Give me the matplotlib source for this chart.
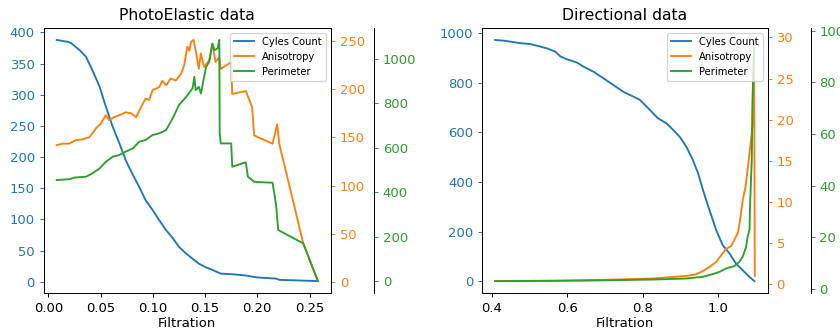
import matplotlib
matplotlib.use('Agg')
import matplotlib.pyplot as plt

# PhotoElastic data
pe_x_count = [0.008, 0.0185, 0.0217, 0.0297, 0.036, 0.042, 0.049, 0.055, 0.0615, 0.068, 0.074, 0.081,
              0.087, 0.093, 0.0998, 0.106, 0.1126, 0.119, 0.125, 0.132, 0.138, 0.144, 0.151, 0.157,
              0.165, 0.176, 0.189, 0.199, 0.218, 0.221, 0.258]
pe_count = [388, 385, 383, 372, 361, 340, 313, 281, 249, 222, 195, 171,
            152, 131, 115, 99, 83, 70, 56, 45, 37, 29, 23, 19,
            13, 12, 10, 7, 5, 3, 1]

pe_x_aniso = [0.008, 0.0137, 0.020, 0.026, 0.033, 0.039, 0.042, 0.046, 0.050, 0.055, 0.058, 0.063,
              0.068, 0.074, 0.079, 0.084, 0.089, 0.093, 0.0966, 0.0998, 0.106, 0.109, 0.113, 0.117,
              0.122, 0.127, 0.130, 0.133, 0.135, 0.1365, 0.139, 0.141, 0.144, 0.146, 0.149, 0.154,
              0.157, 0.160, 0.1636, 0.165, 0.175, 0.176, 0.189, 0.195, 0.197, 0.2146, 0.219, 0.221,
              0.244, 0.258]
pe_aniso = [142, 143.5, 143.5, 147, 148, 150, 154, 160, 164, 173, 168, 171,
            173, 176, 175, 171, 182, 190, 189, 199, 202, 208.5, 204, 211,
            209, 216, 225, 244, 240, 249, 251, 240, 221, 237, 223, 230,
            247, 228, 233, 221, 228, 195, 198, 181.5, 152, 143.5, 163.5, 143.5,
            40, 1]

pe_x_perim = [0.008, 0.020, 0.026, 0.036, 0.042, 0.049, 0.055, 0.0615, 0.068, 0.074, 0.081, 0.087,
              0.093, 0.0998, 0.106, 0.1126, 0.119, 0.125, 0.132, 0.138, 0.1397, 0.141, 0.144, 0.146,
              0.151, 0.154, 0.157, 0.159, 0.162, 0.1636, 0.164, 0.165, 0.175, 0.176, 0.189, 0.191,
              0.197, 0.2146, 0.218, 0.220, 0.244, 0.258]
pe_perim = [455, 459, 467, 470, 485, 507, 537, 560, 568, 583, 598, 628,
            635, 658, 665, 680, 733, 793, 830, 868, 920, 860, 875, 845,
            965, 988, 1070, 1040, 1048, 1086, 665, 620, 620, 515, 535, 470,
            447, 443, 342, 230, 170, 0]

# Directional data
dir_x_count = [0.409, 0.432, 0.45, 0.476, 0.503, 0.529, 0.546, 0.568, 0.582, 0.599, 0.625, 0.643,
               0.669, 0.696, 0.722, 0.748, 0.775, 0.792, 0.810, 0.827, 0.840, 0.862, 0.880, 0.897,
               0.915, 0.932, 0.946, 0.959, 0.976, 0.994, 1.011, 1.029, 1.046, 1.064, 1.082, 1.095]
dir_count = [973, 970, 966, 960, 956, 946, 939, 926, 906, 895, 882, 865,
             845, 818, 791, 764, 744, 731, 704, 677, 657, 637, 610, 583,
             542, 489, 435, 367, 287, 206, 145, 112, 71, 44, 17, 0]

dir_x_aniso = [0.409, 0.564, 0.739, 0.827, 0.915, 0.941, 0.959, 0.976, 0.994, 1.007, 1.020, 1.033,
               1.042, 1.051, 1.057, 1.064, 1.071, 1.077, 1.083, 1.088, 1.090, 1.094, 1.096]
dir_aniso = [0.37, 0.41, 0.57, 0.69, 1.0, 1.2, 1.6, 2.1, 2.7, 3.5, 4.3, 4.6,
             5.4, 6.2, 7.8, 10.2, 11.7, 13.9, 16.3, 18.4, 19.4, 29.7, 1.0]

dir_x_perim = [0.409, 0.652, 0.827, 0.915, 0.959, 0.985, 1.003, 1.020, 1.042, 1.055, 1.064, 1.073,
               1.077, 1.082, 1.084, 1.088, 1.090, 1.093, 1.095]
dir_perim = [3.0, 3.2, 3.6, 4.0, 4.7, 5.7, 6.6, 7.9, 8.8, 10.5, 12.4, 16.3,
             20.2, 22.8, 34.4, 50, 73, 88.8, 96.4]

fig = plt.figure(figsize=(840 / 90, 332 / 90), dpi=90)


def make_panel(rect, title, xc, yc, xa, ya, xp, yp):
    host = fig.add_axes(rect)
    par1 = host.twinx()
    par2 = host.twinx()
    par2.spines['right'].set_position(('axes', 1.15))

    p1, = host.plot(xc, yc, color='tab:blue', label='Cyles Count')
    p2, = par1.plot(xa, ya, color='tab:orange', label='Anisotropy')
    p3, = par2.plot(xp, yp, color='tab:green', label='Perimeter')

    host.set_title(title, fontsize=12.5)
    host.set_xlabel('Filtration', fontsize=10.5, labelpad=2)
    host.tick_params(axis='x', labelsize=10.5)
    host.tick_params(axis='y', colors=p1.get_color(), labelsize=10.5)
    par1.tick_params(axis='y', colors=p2.get_color(), labelsize=10.5)
    par2.tick_params(axis='y', colors=p3.get_color(), labelsize=10.5)

    par2.legend(handles=[p1, p2, p3], loc='upper right', fontsize=8)
    return host


make_panel([0.052, 0.117, 0.342, 0.799], 'PhotoElastic data',
           pe_x_count, pe_count, pe_x_aniso, pe_aniso, pe_x_perim, pe_perim)
make_panel([0.574, 0.117, 0.340, 0.799], 'Directional data',
           dir_x_count, dir_count, dir_x_aniso, dir_aniso, dir_x_perim, dir_perim)

fig.savefig('out.png', dpi=90)
